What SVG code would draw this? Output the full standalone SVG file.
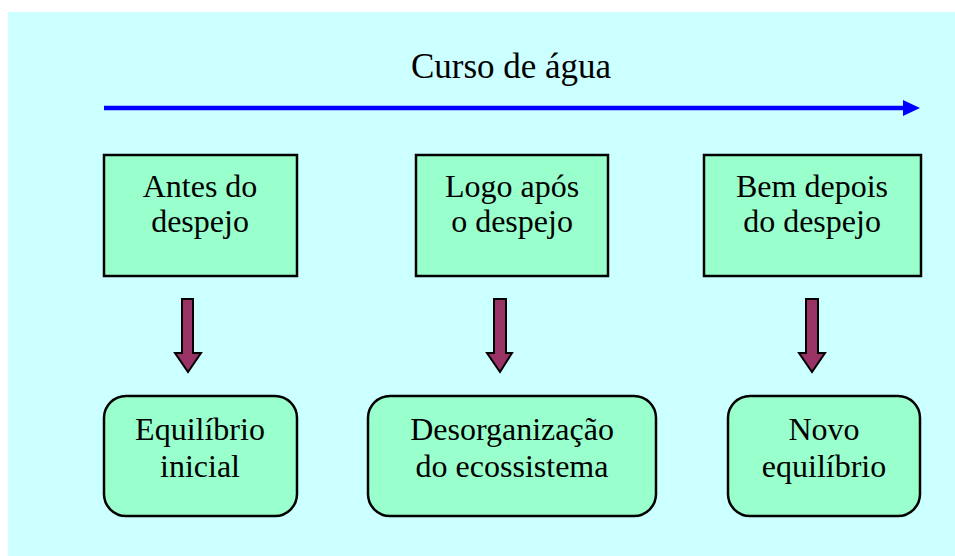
<svg xmlns="http://www.w3.org/2000/svg" width="955" height="556" viewBox="0 0 955 556">
<defs>
<style>
.t{font-family:"Liberation Serif","Times New Roman",serif;font-size:32px;fill:#000;text-anchor:middle}
.box{fill:#99ffcc;stroke:#000;stroke-width:2.5}
.arr{fill:#993366;stroke:#000;stroke-width:2;stroke-linejoin:miter}
</style>
</defs>
<rect x="0" y="0" width="955" height="556" fill="#fff"/>
<rect x="8" y="12" width="947" height="544" fill="#ccffff"/>
<text x="511" y="78" class="t" style="font-size:35px">Curso de água</text>
<g id="connectors">
<line x1="104" y1="108" x2="904" y2="108" stroke="#0000ff" stroke-width="4.5"/>
<polygon points="903,100 920,108 903,116" fill="#0000ff"/>
<polygon class="arr" points="182,299 193,299 193,353 201,353 188,372 175,353 182,353"/>
<polygon class="arr" points="494,299 506,299 506,353 512,353 500,372 487,353 494,353"/>
<polygon class="arr" points="806,299 818,299 818,353 825,353 812,372 799,353 806,353"/>
</g>
<g id="n1"><rect class="box" x="104" y="155" width="193" height="121"/>
<text class="t" x="200" y="197">Antes do</text><text class="t" x="200" y="232">despejo</text></g>
<g id="n2"><rect class="box" x="416" y="155" width="192" height="121"/>
<text class="t" x="512" y="197">Logo após</text><text class="t" x="512" y="232">o despejo</text></g>
<g id="n3"><rect class="box" x="704" y="155" width="217" height="121"/>
<text class="t" x="812" y="197">Bem depois</text><text class="t" x="812" y="232">do despejo</text></g>
<g id="n4"><rect class="box" x="104" y="396" width="193" height="120" rx="22"/>
<text class="t" x="200" y="440">Equilíbrio</text><text class="t" x="200" y="477">inicial</text></g>
<g id="n5"><rect class="box" x="368" y="396" width="288" height="120" rx="22"/>
<text class="t" x="512" y="440">Desorganização</text><text class="t" x="512" y="477">do ecossistema</text></g>
<g id="n6"><rect class="box" x="728" y="396" width="192" height="120" rx="22"/>
<text class="t" x="824" y="440">Novo</text><text class="t" x="824" y="477">equilíbrio</text></g>
</svg>
